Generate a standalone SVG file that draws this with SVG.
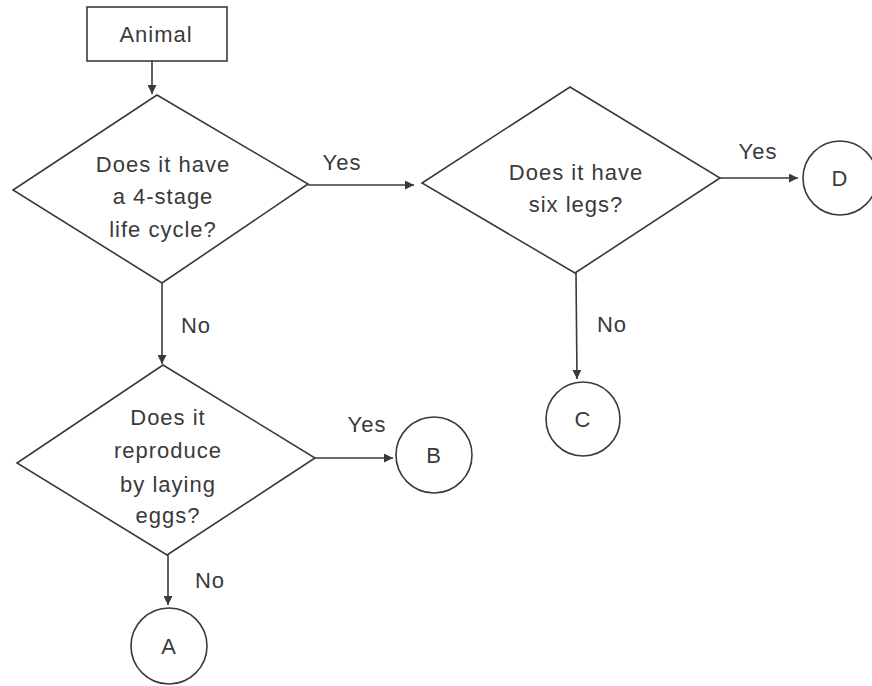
<svg xmlns="http://www.w3.org/2000/svg" width="872" height="686" viewBox="0 0 872 686">
<style>
.shape{fill:#fff;stroke:#3a3a3a;stroke-width:1.6}
.conn{fill:none;stroke:#3a3a3a;stroke-width:1.6}
text{font-family:"Liberation Sans",Arial,sans-serif;font-size:22px;fill:#3a3a3a;letter-spacing:1px;text-anchor:middle}
</style>
<defs>
<marker id="ah" viewBox="0 0 10 10" refX="10" refY="5" markerWidth="10" markerHeight="9" markerUnits="userSpaceOnUse" orient="auto">
<path d="M0,0 L10,5 L0,10 Z" fill="#3a3a3a"/>
</marker>
</defs>
<rect width="872" height="686" fill="#fff"/>
<g id="connectors">
<line class="conn" x1="152" y1="61" x2="152" y2="94" marker-end="url(#ah)"/>
<line class="conn" x1="308" y1="185" x2="414" y2="185" marker-end="url(#ah)"/>
<text x="342" y="170">Yes</text>
<line class="conn" x1="162" y1="283" x2="162" y2="364" marker-end="url(#ah)"/>
<text x="196" y="333">No</text>
<line class="conn" x1="720" y1="178" x2="798" y2="178" marker-end="url(#ah)"/>
<text x="758" y="159">Yes</text>
<line class="conn" x1="576" y1="273" x2="577" y2="379" marker-end="url(#ah)"/>
<text x="612" y="332">No</text>
<line class="conn" x1="315" y1="458" x2="393" y2="458" marker-end="url(#ah)"/>
<text x="367" y="432">Yes</text>
<line class="conn" x1="168" y1="555" x2="168" y2="605" marker-end="url(#ah)"/>
<text x="210" y="588">No</text>
</g>
<g id="animal">
<rect class="shape" x="87" y="7" width="140" height="54"/>
<text x="156" y="42">Animal</text>
</g>
<g id="q1">
<polygon class="shape" points="157,95 308,184 162,283 13,190"/>
<text x="163" y="172">Does it have</text>
<text x="163" y="204">a 4-stage</text>
<text x="163" y="237">life cycle?</text>
</g>
<g id="q2">
<polygon class="shape" points="570,87 720,178 575,273 422,183"/>
<text x="576" y="180">Does it have</text>
<text x="576" y="212">six legs?</text>
</g>
<g id="q3">
<polygon class="shape" points="163,365 315,458 167,555 17,463"/>
<text x="168" y="425">Does it</text>
<text x="168" y="458">reproduce</text>
<text x="168" y="492">by laying</text>
<text x="168" y="523">eggs?</text>
</g>
<g id="D">
<circle class="shape" cx="840" cy="178" r="37"/>
<text x="840" y="186">D</text>
</g>
<g id="C">
<circle class="shape" cx="583" cy="419" r="37"/>
<text x="583" y="427">C</text>
</g>
<g id="B">
<circle class="shape" cx="434" cy="455" r="38"/>
<text x="434" y="463">B</text>
</g>
<g id="A">
<circle class="shape" cx="169" cy="646" r="38"/>
<text x="169" y="654">A</text>
</g>
</svg>
